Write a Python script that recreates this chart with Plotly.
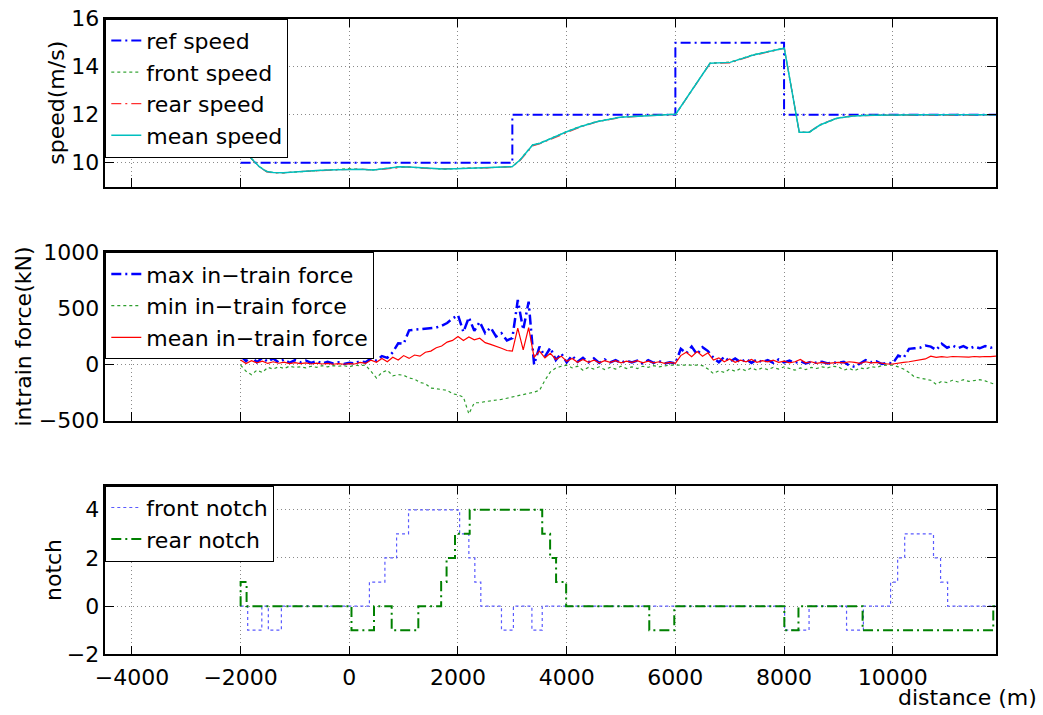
import plotly.graph_objects as go

# ---------------- data ----------------
# speed panel (m/s)
ref_x = [-2000, 3000, 6000, 8000, 11900]
ref_speed = [10, 12, 15, 12, 12]

speed_x = [-2000, -1990, -1900, -1766, -1650, -1520, -1400, -1214, -1000, -800,
           -600, -400, -200, 0, 200, 442, 700, 933, 1100, 1301,
           1500, 1730, 1950, 2160, 2350, 2528, 2750, 2957, 3000, 3141,
           3374, 3509, 3754, 4000, 4245, 4552, 4981, 5410, 5840, 6006,
           6637, 7005, 7434, 8004, 8280, 8464, 8660, 8968, 9274, 9600,
           9888, 10500, 11200, 11899]
mean_speed = [11.0, 10.55, 10.40, 10.11, 9.82, 9.63, 9.59, 9.58, 9.62, 9.65,
              9.67, 9.70, 9.72, 9.74, 9.73, 9.70, 9.76, 9.83, 9.82, 9.79,
              9.76, 9.74, 9.75, 9.77, 9.78, 9.79, 9.82, 9.84, 9.84, 10.11,
              10.74, 10.81, 11.06, 11.29, 11.50, 11.71, 11.89, 11.96, 12.00, 12.02,
              14.14, 14.18, 14.49, 14.77, 11.27, 11.27, 11.57, 11.85, 11.95, 11.98,
              11.99, 12.00, 12.00, 12.00]
front_speed = [11.0, 10.56, 10.41, 10.12, 9.83, 9.64, 9.59, 9.58, 9.61, 9.66,
               9.67, 9.71, 9.72, 9.75, 9.72, 9.70, 9.77, 9.84, 9.81, 9.79,
               9.77, 9.73, 9.75, 9.78, 9.77, 9.79, 9.83, 9.85, 9.84, 10.12,
               10.75, 10.82, 11.07, 11.30, 11.51, 11.72, 11.90, 11.97, 12.01, 12.02,
               14.15, 14.19, 14.50, 14.78, 11.26, 11.26, 11.56, 11.84, 11.95, 11.98,
               11.99, 12.00, 12.01, 12.00]
rear_speed = [11.0, 10.54, 10.39, 10.10, 9.81, 9.62, 9.58, 9.57, 9.63, 9.64,
              9.66, 9.69, 9.73, 9.73, 9.74, 9.69, 9.75, 9.81, 9.83, 9.78,
              9.75, 9.75, 9.74, 9.76, 9.79, 9.78, 9.81, 9.83, 9.83, 10.09,
              10.70, 10.79, 11.03, 11.27, 11.48, 11.70, 11.88, 11.95, 11.99, 12.01,
              14.13, 14.16, 14.47, 14.76, 11.28, 11.28, 11.58, 11.86, 11.96, 11.97,
              11.98, 11.99, 11.98, 12.00]

# in-train force panel (kN), sampled every 100 m from -2000 m
force_x = list(range(-2000, 12000, 100))
max_force = [80, 30, 75, 20, 60, 25, 55, 20, 45, 15,
             40, 20, 35, 15, 30, 10, 25, 10, 20, 5,
             15, 10, 30, 20, 55, 35, 75, 60, 110, 190,
             185, 305, 310, 315, 320, 325, 330, 345, 370, 410,
             440, 290, 420, 300, 380, 280, 330, 250, 280, 215,
             235, 575, 310, 560, 0, 160, 70, 150, 40, 100,
             20, 80, 25, 60, 20, 55, 15, 45, 20, 40,
             15, 35, 20, 35, 10, 40, 15, 30, 10, 20,
             10, 140, 100, 160, 90, 155, 120, 60, 20, 70,
             25, 55, 20, 50, 15, 45, 20, 40, 15, 45,
             20, 35, 15, 30, 10, 25, 15, 25, 10, 20,
             15, 25, -10, -20, 10, 40, 20, 30, 5, 15,
             10, 80, 60, 140, 145, 150, 170, 160, 130, 185,
             150, 170, 145, 165, 140, 160, 145, 165, 150, 160]
min_force = [-5, -60, -90, -50, -70, -25, -40, -20, -35, -15,
             -25, -20, -30, -15, -25, -10, -20, -10, -15, -10,
             -20, -5, -10, -5, -60, -120, -70, -50, -100, -90,
             -95, -120, -130, -160, -170, -210, -215, -225, -230, -260,
             -270, -290, -440, -340, -340, -330, -325, -320, -310, -300,
             -290, -275, -265, -255, -245, -230, -140, -65, -30, -15,
             -5, -30, -15, -50, -25, -40, -20, -45, -25, -40,
             -15, -35, -20, -35, -15, -25, -10, -20, -10, -5,
             -5, -5, 0, -5, -5, -10, -40, -80, -55, -70,
             -40, -60, -35, -55, -30, -50, -30, -45, -25, -40,
             -20, -35, -50, -30, -45, -25, -35, -20, -30, -15,
             -20, -50, -35, -55, -30, -40, -20, -25, -10, -5,
             -5, -20, -40, -70, -110, -120, -130, -140, -175, -150,
             -160, -140, -155, -135, -150, -140, -135, -145, -160, -180]
mean_force = [40, 10, 35, 15, 30, 10, 25, 12, 22, 8,
              18, 8, 15, 5, 12, 5, 10, 3, 8, 3,
              8, 5, 20, 10, 40, 20, 55, 25, 65, 40,
              80, 55, 85, 75, 110, 120, 150, 165, 200, 215,
              250, 215, 245, 220, 235, 195, 180, 165, 145, 125,
              120, 325, 130, 330, 65, 120, 60, 100, 45, 75,
              30, 55, 20, 45, 20, 40, 15, 35, 20, 35,
              15, 30, 20, 35, 15, 30, 15, 25, 10, 20,
              10, 80, 110, 70, 115, 75, 105, 40, 60, 25,
              50, 20, 40, 25, 45, 20, 35, 25, 40, 20,
              30, 15, 25, 45, 15, 25, 10, 20, 10, 15,
              20, 15, 25, 20, 10, 25, 15, 20, 10, 5,
              5, 15, 20, 25, 35, 40, 50, 75, 65, 70,
              65, 72, 68, 70, 66, 72, 68, 72, 70, 75]

# notch panel (step changes)
front_notch_x = [-2000, -1870, -1610, -1490, -1250, 370, 655, 870, 1090, 2030,
                 2200, 2310, 2420, 2800, 3020, 3360, 3550, 8010, 8460, 9150,
                 9460, 9960, 10090, 10220, 10750, 10880, 11010, 11900]
front_notch = [0, -1, 0, -1, 0, 1, 2, 3, 4, 3,
               2, 1, 0, -1, 0, -1, 0, -1, 0, -1,
               0, 1, 2, 3, 2, 1, 0, 0]
rear_notch_x = [-2000, -2000, -1890, 40, 455, 780, 1270, 1690, 1790, 1945,
                2215, 3550, 3695, 3805, 3990, 5520, 5980, 8005, 8265, 9445,
                11850, 11900]
rear_notch = [0, 1, 0, -1, 0, -1, 0, 1, 2, 3,
              4, 3, 2, 1, 0, -1, 0, -1, 0, -1,
              0, 0]

x_ticks = [-4000, -2000, 0, 2000, 4000, 6000, 8000, 10000]
x_ticktext = ["\u22124000", "\u22122000", "0", "2000", "4000", "6000", "8000", "10000"]
x_range = [-4490, 11900]

# ---------------- figure ----------------
W, H = 1043, 715
FONT = "DejaVu Sans, Verdana, sans-serif"
FS = 22
DASHDOT = "10px,4px,2px,4px"

def px_x(p):
    return p / W

def px_y(p):
    return 1 - p / H

xdom = [px_x(105.3), px_x(996)]
dom1 = [px_y(186.7), px_y(18.7)]
dom2 = [px_y(420.7), px_y(252.3)]
dom3 = [px_y(654.3), px_y(485.7)]

fig = go.Figure()

# top panel
fig.add_trace(go.Scatter(x=ref_x, y=ref_speed, mode="lines", name="ref speed",
                         line=dict(color="#0000ff", width=2, dash=DASHDOT, shape="hv"),
                         xaxis="x", yaxis="y", legend="legend"))
fig.add_trace(go.Scatter(x=speed_x, y=front_speed, mode="lines", name="front speed",
                         line=dict(color="#3aa63a", width=1.2, dash="dot"),
                         xaxis="x", yaxis="y", legend="legend"))
fig.add_trace(go.Scatter(x=speed_x, y=rear_speed, mode="lines", name="rear speed",
                         line=dict(color="#ff3030", width=1.2, dash=DASHDOT),
                         xaxis="x", yaxis="y", legend="legend"))
fig.add_trace(go.Scatter(x=speed_x, y=mean_speed, mode="lines", name="mean speed",
                         line=dict(color="#00bfbf", width=1.5),
                         xaxis="x", yaxis="y", legend="legend"))

# middle panel
fig.add_trace(go.Scatter(x=force_x, y=max_force, mode="lines", name="max in\u2212train force",
                         line=dict(color="#0000ff", width=2.5, dash=DASHDOT),
                         xaxis="x2", yaxis="y2", legend="legend2"))
fig.add_trace(go.Scatter(x=force_x, y=min_force, mode="lines", name="min in\u2212train force",
                         line=dict(color="#2e9e2e", width=1.2, dash="dot"),
                         xaxis="x2", yaxis="y2", legend="legend2"))
fig.add_trace(go.Scatter(x=force_x, y=mean_force, mode="lines", name="mean in\u2212train force",
                         line=dict(color="#ff0000", width=1.2),
                         xaxis="x2", yaxis="y2", legend="legend2"))

# bottom panel
fig.add_trace(go.Scatter(x=front_notch_x, y=front_notch, mode="lines", name="front notch",
                         line=dict(color="#5a5aff", width=1.2, dash="dot", shape="hv"),
                         xaxis="x3", yaxis="y3", legend="legend3"))
fig.add_trace(go.Scatter(x=rear_notch_x, y=rear_notch, mode="lines", name="rear notch",
                         line=dict(color="#008000", width=2, dash=DASHDOT, shape="hv"),
                         xaxis="x3", yaxis="y3", legend="legend3"))

axis_common = dict(
    showline=True, linecolor="black", linewidth=1.5, mirror="ticks",
    ticks="inside", ticklen=9, tickwidth=1, tickcolor="black",
    showgrid=True, gridcolor="#8a8a8a", griddash="1px,3px", gridwidth=1,
    zeroline=False, tickfont=dict(family=FONT, size=FS, color="black"),
)

legend_common = dict(xanchor="left", yanchor="top", bgcolor="white",
                     bordercolor="black", borderwidth=1,
                     font=dict(family=FONT, size=FS, color="black"), tracegroupgap=0)

fig.update_layout(
    width=W, height=H,
    margin=dict(l=0, r=0, t=0, b=0, autoexpand=False),
    paper_bgcolor="white", plot_bgcolor="white",
    font=dict(family=FONT, size=FS, color="black"),
    xaxis=dict(domain=xdom, anchor="y", range=x_range, tickvals=x_ticks,
               showticklabels=False, **axis_common),
    yaxis=dict(domain=dom1, anchor="x", range=[9, 16], tickvals=[10, 12, 14, 16], **axis_common),
    xaxis2=dict(domain=xdom, anchor="y2", range=x_range, tickvals=x_ticks,
                showticklabels=False, **axis_common),
    yaxis2=dict(domain=dom2, anchor="x2", range=[-500, 1000], tickvals=[-500, 0, 500, 1000],
                **axis_common),
    xaxis3=dict(domain=xdom, anchor="y3", range=x_range, tickvals=x_ticks,
                ticktext=x_ticktext, showticklabels=True, ticklabelstandoff=3,
                **axis_common),
    yaxis3=dict(domain=dom3, anchor="x3", range=[-2, 5], tickvals=[-2, 0, 2, 4], **axis_common),
    legend=dict(x=xdom[0], y=dom1[1], **legend_common),
    legend2=dict(x=xdom[0], y=dom2[1], **legend_common),
    legend3=dict(x=xdom[0], y=dom3[1], **legend_common),
    showlegend=True,
)

title_font = dict(family=FONT, size=FS, color="black")
fig.add_annotation(text="speed(m/s)", x=px_x(57), y=(dom1[0] + dom1[1]) / 2, xref="paper",
                   yref="paper", textangle=-90, showarrow=False, xanchor="center",
                   yanchor="middle", font=title_font)
fig.add_annotation(text="intrain force(kN)", x=px_x(23), y=(dom2[0] + dom2[1]) / 2,
                   xref="paper", yref="paper", textangle=-90, showarrow=False,
                   xanchor="center", yanchor="middle", font=title_font)
fig.add_annotation(text="notch", x=px_x(54), y=(dom3[0] + dom3[1]) / 2, xref="paper",
                   yref="paper", textangle=-90, showarrow=False, xanchor="center",
                   yanchor="middle", font=title_font)
fig.add_annotation(text="distance (m)", x=px_x(1039), y=px_y(697), xref="paper",
                   yref="paper", showarrow=False, xanchor="right", yanchor="middle",
                   font=title_font)

fig.write_html(
    "out.html",
    config={"displayModeBar": False},
    post_script="document.body.style.margin='0';document.body.style.padding='0';"
                "document.documentElement.style.overflow='hidden';",
)
